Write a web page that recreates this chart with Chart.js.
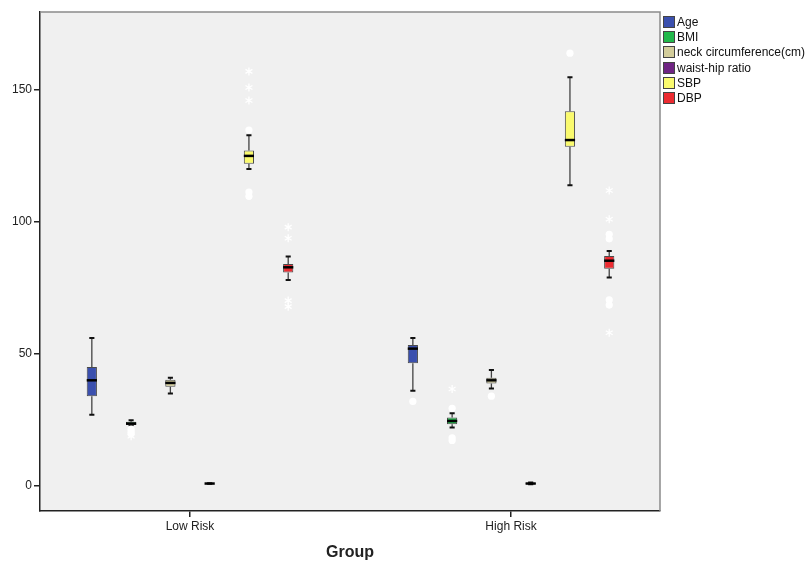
<!DOCTYPE html>
<html>
<head>
<meta charset="utf-8">
<script src="https://cdn.jsdelivr.net/npm/chart.js@4.4.1/dist/chart.umd.min.js"></script>
<style>
  html, body { margin: 0; padding: 0; background: #fff; }
  #wrap { position: relative; width: 809px; height: 562px; }
  #legend { position: absolute; left: 663px; top: 14px; font: 12px "Liberation Sans", Arial, sans-serif; color: #111; }
  .item { height: 15.3px; display: flex; align-items: center; white-space: nowrap; }
  .swatch { width: 10px; height: 10px; border: 1px solid #444; margin-right: 2px; flex: none; }
</style>
</head>
<body>
<div id="wrap">
  <canvas id="chart" width="809" height="562"></canvas>
  <div id="legend"></div>
</div>
<script>
const groups = ['Low Risk', 'High Risk'];
const variables = ['Age', 'BMI', 'neck circumference(cm)', 'waist-hip ratio', 'SBP', 'DBP'];
const colors = ['#3b50ae', '#22b84b', '#d3cd9b', '#6f2483', '#fafa6e', '#ec2b31'];
const yTicks = [0, 50, 100, 150];

// [min, q1, median, q3, max] per group (Low Risk, High Risk)
const ageBox = [[27, 34, 40, 45, 56], [36, 46.5, 52, 53.4, 56]];
const bmiBox = [[23, 23.1, 23.6, 24.3, 24.9], [22.1, 23.4, 24.6, 25.9, 27.5]];
const neckBox = [[35, 37.6, 39, 40.2, 41], [36.9, 38.8, 40, 41, 43.9]];
const whrBox = [[0.78, 0.85, 0.9, 0.95, 1.02], [0.6, 0.75, 0.9, 1.2, 1.3]];
const sbpBox = [[120, 122, 125, 127, 132.8], [113.9, 128.5, 131, 141.9, 154.8]];
const dbpBox = [[78, 80.8, 82.8, 84.1, 86.9], [78.9, 82.3, 85.3, 87.1, 89]];

// outliers (circles) and extremes (stars)
const ageOut = [[], [32]];
const ageExt = [[], []];
const bmiOut = [[21.5, 20.5, 19.8], [29.4, 18.2, 17.2]];
const bmiExt = [[18.8], [36.7]];
const neckOut = [[], [34]];
const neckExt = [[], []];
const whrOut = [[], []];
const whrExt = [[], []];
const sbpOut = [[134.8, 111.3, 109.7], [163.9]];
const sbpExt = [[157, 150.9, 146], []];
const dbpOut = [[], [95.3, 93.6, 70.5, 68.5]];
const dbpExt = [[98, 93.8, 70.2, 67.9], [111.9, 101, 58]];

const boxes = [ageBox, bmiBox, neckBox, whrBox, sbpBox, dbpBox];
const outs = [ageOut, bmiOut, neckOut, whrOut, sbpOut, dbpOut];
const exts = [ageExt, bmiExt, neckExt, whrExt, sbpExt, dbpExt];

const font = { family: '"Liberation Sans", Arial, sans-serif', size: 12 };

const datasets = variables.map((name, i) => ({
    label: name,
    data: groups.map((g, j) => ({ x: j + 1, y: [boxes[i][j][1], boxes[i][j][3]] })),
    stats: boxes[i],
    outliers: outs[i],
    extremes: exts[i],
    backgroundColor: colors[i],
    borderColor: '#4a4a4a',
    borderWidth: 1,
    borderSkipped: false,
    categoryPercentage: 0.734,
    barPercentage: 0.26
}));

function drawStar(ctx, x, y, r) {
    ctx.beginPath();
    for (let k = 0; k < 3; k++) {
        const a = Math.PI / 2 + k * Math.PI / 3;
        ctx.moveTo(x - r * Math.cos(a), y - r * Math.sin(a));
        ctx.lineTo(x + r * Math.cos(a), y + r * Math.sin(a));
    }
    ctx.stroke();
}

const boxplot = {
    id: 'boxplot',
    beforeDraw(chart) {
        const { ctx, chartArea: a } = chart;
        ctx.save();
        ctx.fillStyle = '#f0f0f0';
        ctx.fillRect(a.left, a.top, a.right - a.left, a.bottom - a.top);
        ctx.restore();
    },
    beforeDatasetsDraw(chart) {
        const { ctx } = chart;
        const yScale = chart.scales.y;
        ctx.save();
        chart.data.datasets.forEach((ds, i) => {
            chart.getDatasetMeta(i).data.forEach((el, j) => {
                const s = ds.stats[j];
                const x = el.x, cap = el.width * 0.25;
                ctx.strokeStyle = '#444';
                ctx.lineWidth = 1.3;
                ctx.beginPath();
                ctx.moveTo(x, yScale.getPixelForValue(s[0]));
                ctx.lineTo(x, yScale.getPixelForValue(s[1]));
                ctx.moveTo(x, yScale.getPixelForValue(s[3]));
                ctx.lineTo(x, yScale.getPixelForValue(s[4]));
                ctx.stroke();
                ctx.strokeStyle = '#111';
                ctx.lineWidth = 2;
                ctx.beginPath();
                [s[0], s[4]].forEach(v => {
                    const py = yScale.getPixelForValue(v);
                    ctx.moveTo(x - cap, py);
                    ctx.lineTo(x + cap, py);
                });
                ctx.stroke();
            });
        });
        ctx.restore();
    },
    afterDatasetsDraw(chart) {
        const { ctx, chartArea: a } = chart;
        const yScale = chart.scales.y;
        ctx.save();
        chart.data.datasets.forEach((ds, i) => {
            chart.getDatasetMeta(i).data.forEach((el, j) => {
                const x = el.x, half = el.width / 2;
                const my = yScale.getPixelForValue(ds.stats[j][2]);
                ctx.strokeStyle = '#000';
                ctx.lineWidth = 2.5;
                ctx.beginPath();
                ctx.moveTo(x - half, my);
                ctx.lineTo(x + half, my);
                ctx.stroke();
                ctx.fillStyle = '#fff';
                ds.outliers[j].forEach(v => {
                    ctx.beginPath();
                    ctx.arc(x, yScale.getPixelForValue(v), 3.6, 0, Math.PI * 2);
                    ctx.fill();
                });
                ctx.strokeStyle = '#fff';
                ctx.lineWidth = 1.3;
                ds.extremes[j].forEach(v => drawStar(ctx, x, yScale.getPixelForValue(v), 4));
            });
        });
        ctx.strokeStyle = '#8a8a8a';
        ctx.lineWidth = 1.5;
        ctx.beginPath();
        ctx.moveTo(a.left, a.top);
        ctx.lineTo(a.right, a.top);
        ctx.lineTo(a.right, a.bottom);
        ctx.stroke();
        ctx.restore();
    }
};

new Chart(document.getElementById('chart'), {
    type: 'bar',
    data: { datasets: datasets },
    plugins: [boxplot],
    options: {
        responsive: false,
        animation: false,
        layout: { padding: { left: 0, top: 12, right: 149, bottom: 0 } },
        plugins: {
            legend: { display: false },
            tooltip: { enabled: false }
        },
        scales: {
            x: {
                type: 'linear',
                offset: false,
                min: 0.5327,
                max: 2.464,
                afterBuildTicks: s => { s.ticks = [{ value: 1 }, { value: 2 }]; },
                afterFit: s => { s.height = 51; },
                ticks: {
                    font: font,
                    color: '#222',
                    padding: 2,
                    callback: v => groups[v - 1]
                },
                grid: { offset: false, drawOnChartArea: false, tickLength: 6, color: '#222', lineWidth: 1.5 },
                border: { color: '#222', width: 1.5 },
                title: {
                    display: true,
                    text: 'Group',
                    color: '#222',
                    font: { family: font.family, size: 16, weight: 'bold' },
                    padding: { top: 0, bottom: 0 }
                }
            },
            y: {
                min: -9.5,
                max: 179.5,
                afterBuildTicks: s => { s.ticks = yTicks.map(v => ({ value: v })); },
                afterFit: s => { s.width = 40; },
                ticks: { font: font, color: '#222', padding: 2 },
                grid: { drawOnChartArea: false, tickLength: 6, color: '#222', lineWidth: 1.5 },
                border: { color: '#222', width: 1.5 }
            }
        }
    }
});

const legend = document.getElementById('legend');
variables.forEach((name, i) => {
    const item = document.createElement('div');
    item.className = 'item';
    item.innerHTML = '<span class="swatch" style="background:' + colors[i] + '"></span>' + name;
    legend.appendChild(item);
});
</script>
</body>
</html>
